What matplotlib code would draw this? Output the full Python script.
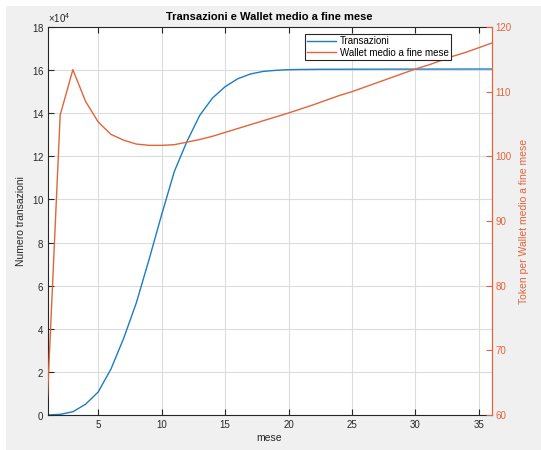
import numpy as np
import matplotlib.pyplot as plt
from matplotlib.patches import Rectangle

plt.rcParams['font.family'] = ['Liberation Sans', 'DejaVu Sans']
plt.rcParams['mathtext.fontset'] = 'custom'
plt.rcParams['mathtext.rm'] = 'Liberation Sans'

mblue = '#1a7cc4'
morange = '#e2643a'
mdark = '#262626'

mesi = np.arange(1, 37)
transazioni = np.array([
    0, 300, 1500, 5000, 10700, 21300, 35500, 52000, 72000, 93000,
    113000, 127000, 139000, 147000, 152300, 156000, 158200, 159400, 159900, 160200,
    160300, 160350, 160400, 160400, 160420, 160430, 160440, 160450, 160450, 160460,
    160470, 160480, 160480, 160490, 160500, 160500])
wallet = np.array([
    62.8, 106.4, 113.4, 108.5, 105.3, 103.4, 102.5, 101.9, 101.7, 101.7,
    101.8, 102.2, 102.6, 103.1, 103.7, 104.3, 104.9, 105.5, 106.1, 106.7,
    107.35, 108.0, 108.7, 109.4, 110.0, 110.7, 111.4, 112.1, 112.8, 113.5,
    114.1, 114.8, 115.5, 116.1, 116.8, 117.5])

fig = plt.figure(figsize=(5.41, 4.5), dpi=100)
fig.patch.set_facecolor('white')
fig.patches.append(Rectangle((6 / 541, 0), 1, 444 / 450, transform=fig.transFigure,
                             facecolor='#f0f0f0', edgecolor='none', zorder=-10))

ax = fig.add_axes([47.5 / 541, 35 / 450, 444 / 541, 388 / 450])
ax.set_facecolor('white')
l1, = ax.plot(mesi, transazioni, color=mblue, linewidth=1.0, label='Transazioni')
ax.set_xlim(1, 36)
ax.set_ylim(0, 180000)
ax.set_yticks(np.arange(0, 180001, 20000))
ax.set_xticks([5, 10, 15, 20, 25, 30, 35])
ax.ticklabel_format(axis='y', style='sci', scilimits=(4, 4), useMathText=True)
ax.yaxis.get_offset_text().set_fontsize(7)
ax.yaxis.get_offset_text().set_color(mdark)
ax.grid(True, color='#dcdcdc', linewidth=0.8)
ax.set_axisbelow(True)
ax.tick_params(direction='in', length=4, labelsize=7, colors=mdark, top=True, width=0.8)
ax.tick_params(axis='y', right=False, pad=2.5)
for s in ['left', 'bottom', 'top']:
    ax.spines[s].set_color(mdark)
    ax.spines[s].set_linewidth(0.8)
ax.spines['right'].set_visible(False)
ax.set_xlabel('mese', fontsize=7.5, color=mdark, labelpad=2)
ax.set_ylabel('Numero transazioni', fontsize=7.5, color=mdark, labelpad=4)
ax.set_title('Transazioni e Wallet medio a fine mese', fontsize=8, fontweight='bold',
             color='black', pad=5)

ax2 = ax.twinx()
l2, = ax2.plot(mesi, wallet, color=morange, linewidth=1.0, label='Wallet medio a fine mese')
ax2.set_ylim(60, 120)
ax2.set_yticks(np.arange(60, 121, 10))
ax2.tick_params(direction='in', length=4, labelsize=7, colors=morange, width=0.8, pad=3)
for s in ['left', 'bottom', 'top']:
    ax2.spines[s].set_visible(False)
ax2.spines['right'].set_color(morange)
ax2.spines['right'].set_linewidth(0.9)
ax2.set_ylabel('Token per Wallet medio a fine mese', fontsize=7.5, color=morange, labelpad=5)

leg = ax2.legend([l1, l2], ['Transazioni', 'Wallet medio a fine mese'],
                 loc='upper right', bbox_to_anchor=(0.909, 0.982), borderaxespad=0,
                 fontsize=7, fancybox=False, framealpha=1, edgecolor=mdark,
                 handlelength=3.0, handletextpad=0.35, borderpad=0.25, labelspacing=0.15)
leg.get_frame().set_linewidth(0.8)

fig.savefig('out.png', dpi=100)
